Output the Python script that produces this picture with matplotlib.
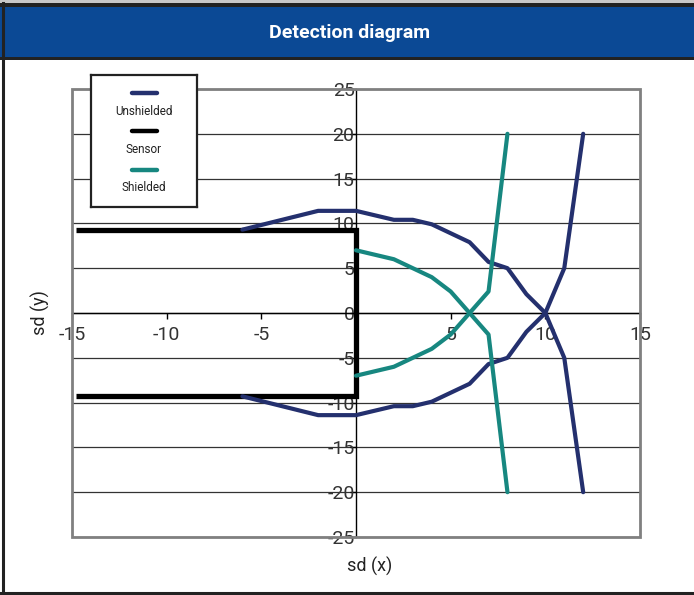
import numpy as np
import matplotlib
matplotlib.use("Agg")
import matplotlib.pyplot as plt
from matplotlib.patches import Rectangle
from matplotlib.lines import Line2D

# series (sd in x / y)
unsh_arc_top_x = [-6, -2, 0, 2, 3, 4, 6, 7, 8, 9, 10]
unsh_arc_top_y = [9.3, 11.4, 11.4, 10.4, 10.4, 9.9, 7.9, 5.7, 5.0, 2.1, 0]
unsh_arc_bot_x = [-6, -2, 0, 2, 3, 4, 6, 7, 8, 9, 10]
unsh_arc_bot_y = [-9.3, -11.4, -11.4, -10.4, -10.4, -9.9, -7.9, -5.7, -5.0, -2.1, 0]
unsh_out_x = [12, 11, 10, 11, 12]
unsh_out_y = [20, 5, 0, -5, -20]

shld_arc_top_x = [0, 2, 4, 5, 6]
shld_arc_top_y = [7.0, 6.0, 4.0, 2.4, 0]
shld_arc_bot_x = [0, 2, 4, 5, 6]
shld_arc_bot_y = [-7.0, -6.0, -4.0, -2.4, 0]
shld_out_x = [8, 7, 6, 7, 8]
shld_out_y = [20, 2.4, 0, -2.4, -20]

sensor_x = [-14.8, 0, 0, -14.8]
sensor_y = [9.25, 9.25, -9.25, -9.25]

x_ticks = [-15, -10, -5, 0, 5, 10, 15]
y_ticks = [-25, -20, -15, -10, -5, 0, 5, 10, 15, 20, 25]

NAVY = "#24306e"
TEAL = "#178780"
BLUE = "#0b4995"
FONT = ["Roboto", "DejaVu Sans"]

W, H = 694, 595
fig = plt.figure(figsize=(W / 100, H / 100), dpi=100)

# frame and title bar
fig.patches.append(Rectangle((0, 1 - 3 / H), 1, 3 / H, transform=fig.transFigure,
                             facecolor="#c8c8c8", edgecolor="none"))
fig.patches.append(Rectangle((0, 1 - 60 / H), 1, 57 / H, transform=fig.transFigure,
                             facecolor="#222222", edgecolor="none"))
fig.patches.append(Rectangle((0, 1 - 57 / H), 1, 50 / H, transform=fig.transFigure,
                             facecolor=BLUE, edgecolor="none"))
fig.add_artist(Line2D([3 / W, 3 / W], [2 / H, 1 - 3 / H], color="#222222", lw=2.2))
fig.add_artist(Line2D([0, 1], [2 / H, 2 / H], color="#222222", lw=2.2))
fig.text(0.503, 1 - 33 / H, "Detection diagram", color="white", fontsize=14,
         fontweight="bold", family=FONT, ha="center", va="center")

ax = fig.add_axes([72 / W, 58 / H, 568 / W, 448 / H])

ax.plot(unsh_arc_top_x, unsh_arc_top_y, color=NAVY, lw=3, solid_joinstyle="round",
        solid_capstyle="round", zorder=4)
ax.plot(unsh_arc_bot_x, unsh_arc_bot_y, color=NAVY, lw=3, solid_joinstyle="round",
        solid_capstyle="round", zorder=4)
ax.plot(unsh_out_x, unsh_out_y, color=NAVY, lw=3, solid_joinstyle="round",
        solid_capstyle="round", zorder=4)
ax.plot(sensor_x, sensor_y, color="black", lw=3.8, solid_joinstyle="miter",
        solid_capstyle="butt", zorder=3)
ax.plot(shld_arc_top_x, shld_arc_top_y, color=TEAL, lw=3, solid_joinstyle="round",
        solid_capstyle="round", zorder=5)
ax.plot(shld_arc_bot_x, shld_arc_bot_y, color=TEAL, lw=3, solid_joinstyle="round",
        solid_capstyle="round", zorder=5)
ax.plot(shld_out_x, shld_out_y, color=TEAL, lw=3, solid_joinstyle="round",
        solid_capstyle="round", zorder=5)

ax.set_xlim(-15, 15)
ax.set_ylim(-25, 25)
ax.set_xticks(x_ticks)
ax.set_yticks(y_ticks)
ax.set_xticklabels(["-15", "-10", "-5", "", "5", "10", "15"])
ax.set_yticklabels([str(v) for v in y_ticks])

# axes crossing at the origin, Excel style
for side in ["left", "bottom"]:
    ax.spines[side].set_position(("data", 0))
    ax.spines[side].set_color("black")
    ax.spines[side].set_linewidth(1.0)
    ax.spines[side].set_zorder(2)
for side in ["top", "right"]:
    ax.spines[side].set_visible(False)
ax.add_patch(Rectangle((0, 0), 1, 1, transform=ax.transAxes, fill=False,
                       edgecolor="#808080", lw=2.0, zorder=2.5, clip_on=False))

ax.yaxis.grid(True, color="#333333", lw=0.9)
ax.set_axisbelow(True)
ax.tick_params(axis="x", direction="out", length=4, width=1, pad=5,
               labelsize=14, labelcolor="#333333")
ax.tick_params(axis="y", direction="out", length=4, width=1, pad=-3,
               labelsize=14, labelcolor="#333333")
for lab in ax.get_xticklabels() + ax.get_yticklabels():
    lab.set_family(FONT)

ax.text(0.524, -0.065, "sd (x)", transform=ax.transAxes, ha="center", va="center",
        fontsize=13, family=FONT, color="#222222")
ax.text(-0.056, 0.5, "sd (y)", transform=ax.transAxes, ha="center", va="center",
        rotation=90, fontsize=13, family=FONT, color="#222222")

# legend: swatch above label, like the Excel box
lax = fig.add_axes([91 / W, 1 - 207 / H, 106 / W, 132 / H])
lax.set_xlim(0, 1)
lax.set_ylim(0, 1)
lax.set_xticks([])
lax.set_yticks([])
for s in lax.spines.values():
    s.set_color("#222222")
    s.set_linewidth(1.6)
entries = [("Unshielded", NAVY), ("Sensor", "black"), ("Shielded", TEAL)]
for i, (name, col) in enumerate(entries):
    y0 = 0.86 - i * 0.288
    lax.plot([0.385, 0.62], [y0, y0], color=col, lw=3.2, solid_capstyle="round")
    lax.text(0.5, y0 - 0.14, name, ha="center", va="center", fontsize=8.5,
             family=FONT, color="#222222")

fig.savefig("out.png", dpi=100)
